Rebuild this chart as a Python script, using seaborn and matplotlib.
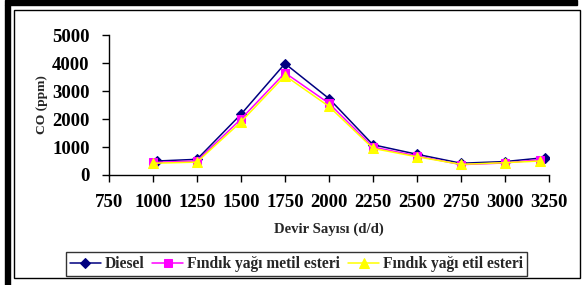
import pandas as pd
import matplotlib
matplotlib.use("Agg")
import matplotlib.pyplot as plt
import seaborn as sns
from matplotlib.patches import Rectangle

# Data
rpm_diesel = [1025, 1250, 1500, 1750, 2000, 2250, 2500, 2750, 3000, 3225]
rpm_esters = [1000, 1250, 1500, 1750, 2000, 2250, 2500, 2750, 3000, 3200]
co_diesel = [500, 560, 2170, 3980, 2730, 1080, 740, 420, 480, 620]
co_methyl = [450, 500, 2000, 3650, 2560, 1000, 680, 370, 430, 550]
co_ethyl = [420, 460, 1900, 3550, 2450, 950, 650, 380, 440, 500]

series_names = ["Diesel", "Fındık yağı metil esteri", "Fındık yağı etil esteri"]
x_ticks = [750, 1000, 1250, 1500, 1750, 2000, 2250, 2500, 2750, 3000, 3250]
y_ticks = [0, 1000, 2000, 3000, 4000, 5000]

df = pd.concat([
    pd.DataFrame({"rpm": rpm_diesel, "co": co_diesel, "seri": series_names[0]}),
    pd.DataFrame({"rpm": rpm_esters, "co": co_methyl, "seri": series_names[1]}),
    pd.DataFrame({"rpm": rpm_esters, "co": co_ethyl, "seri": series_names[2]}),
])

sns.set_style("white")
plt.rcParams["font.family"] = ["Liberation Serif", "DejaVu Serif"]
plt.rcParams["font.weight"] = "bold"

fig = plt.figure(figsize=(5.85, 2.85), dpi=100)
ax = fig.add_axes([0.1863, 0.386, 0.7522, 0.491])

colors = ["#000080", "#FF00FF", "#FFFF00"]
markers = ["D", "s", "^"]
sizes = [5, 6, 7]
for name, c, m, s in zip(series_names, colors, markers, sizes):
    sns.lineplot(data=df[df["seri"] == name], x="rpm", y="co", ax=ax,
                 color=c, marker=m, markersize=s, markeredgecolor=c,
                 linewidth=1.1, label=name)

ax.set_xlim(750, 3250)
ax.set_ylim(0, 5000)
ax.set_xticks(x_ticks)
ax.set_yticks(y_ticks)
ax.tick_params(axis="x", bottom=True, direction="out", length=5, width=1, pad=9,
               labelsize=13.5, colors="black")
ax.tick_params(axis="y", left=True, direction="out", length=5, width=1, pad=9,
               labelsize=13.5, colors="black")
for lab in ax.get_xticklabels() + ax.get_yticklabels():
    lab.set_fontweight("bold")

for side in ["top", "right"]:
    ax.spines[side].set_visible(False)
for side in ["left", "bottom"]:
    ax.spines[side].set_color("black")
    ax.spines[side].set_linewidth(1)

ax.set_xlabel("Devir Sayısı (d/d)", fontsize=10.6, fontweight="bold", labelpad=8)
ax.set_ylabel("CO (ppm)", fontsize=9.7, fontweight="bold", labelpad=3)

leg = ax.legend(loc="center", bbox_to_anchor=(0.426, -0.636), ncol=3, frameon=True,
                fancybox=False, edgecolor="black", fontsize=11.2,
                handlelength=2, columnspacing=0.5, borderpad=0.25,
                handletextpad=0.25, borderaxespad=0)
leg.get_frame().set_linewidth(1)
for t in leg.get_texts():
    t.set_fontweight("bold")

# outer frame with heavy shadow on top and left
fig.patches.append(Rectangle((14 / 585, 1 - 278 / 285), 566 / 585, 268 / 285,
                             transform=fig.transFigure, fill=False,
                             edgecolor="black", linewidth=1))
fig.patches.append(Rectangle((5 / 585, 1 - 5 / 285), 572 / 585, 5 / 285,
                             transform=fig.transFigure, color="black"))
fig.patches.append(Rectangle((5 / 585, 0), 5 / 585, 1 - 5 / 285,
                             transform=fig.transFigure, color="black"))

fig.savefig("out.png", dpi=100)
